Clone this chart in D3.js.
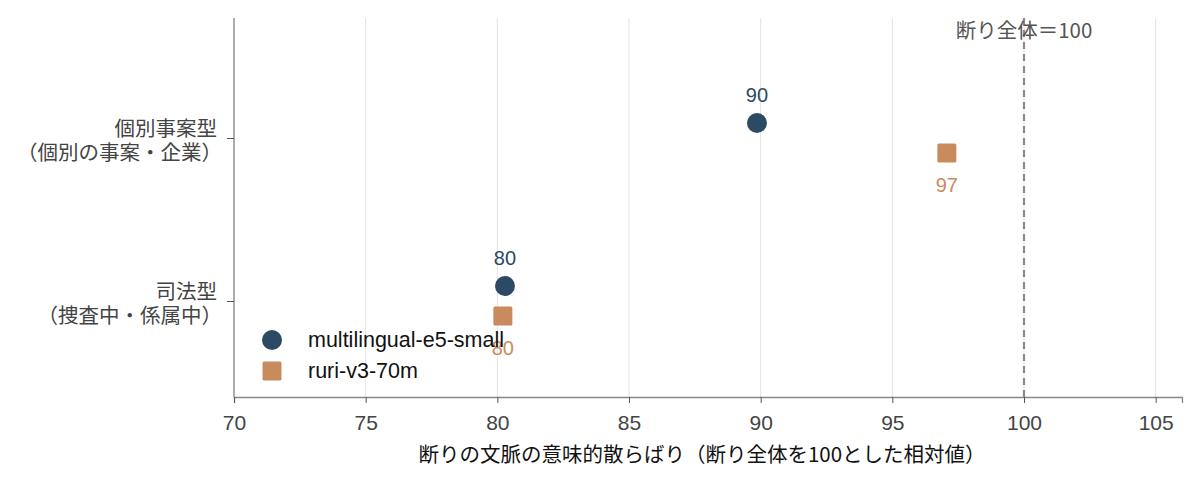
<!DOCTYPE html>
<html><head><meta charset="utf-8">
<script src="https://cdn.jsdelivr.net/npm/d3@7"></script>
<style>
html,body{margin:0;padding:0;background:#fff;}
text{font-family:"Noto Sans CJK JP","Noto Sans",sans-serif;}
</style></head>
<body><svg id="c" width="1200" height="485"></svg>
<script>
const categories = ["個別事案型", "司法型"];
const categorySub = ["（個別の事案・企業）", "（捜査中・係属中）"];
const seriesNames = ["multilingual-e5-small", "ruri-v3-70m"];
const e5Values = [89.86, 80.29];
const ruriValues = [97.07, 80.21];
const e5Labels = ["90", "80"];
const ruriLabels = ["97", "80"];
const xTicks = [70, 75, 80, 85, 90, 95, 100, 105];
const refValue = 100;
const refLabel = "断り全体＝100";
const xTitle = "断りの文脈の意味的散らばり（断り全体を100とした相対値）";

const colors = ["#2c4a63", "#c98b5e"];
const latin = "'Liberation Sans','Noto Sans',sans-serif";
const svg = d3.select("#c");
const L = 234, R = 1182, T = 18, B = 397;
const x = d3.scaleLinear().domain([70, 106]).range([L, R]);
const y = d3.scalePoint().domain(categories).range([138, 301]);

// grid
svg.append("g").selectAll("line").data(xTicks).join("line")
  .attr("x1", d => x(d)).attr("x2", d => x(d)).attr("y1", T).attr("y2", B)
  .attr("stroke", "#e3e3e3").attr("stroke-width", 1);

// x axis
const xa = svg.append("g").attr("transform", `translate(0,${B})`)
  .call(d3.axisBottom(x).tickValues(xTicks).tickSize(6).tickPadding(12));
xa.select(".domain").attr("stroke", "#888").attr("stroke-width", 1.3);
xa.selectAll(".tick line").attr("stroke", "#555");
xa.selectAll(".tick text").attr("fill", "#444").style("font-size", "21px")
  .style("font-family", latin);

// y axis
const ya = svg.append("g").attr("transform", `translate(${L},0)`)
  .call(d3.axisLeft(y).tickSize(7).tickFormat(""));
ya.select(".domain").attr("d", `M0,${T}V${B}`).attr("stroke", "#888").attr("stroke-width", 1.3);
ya.selectAll(".tick line").attr("stroke", "#555");
categories.forEach((c, i) => {
  const t = svg.append("text").attr("text-anchor", "end").attr("fill", "#444")
    .style("font-size", "20.5px");
  t.append("tspan").attr("x", 217).attr("y", y(c) - 2).text(c);
  t.append("tspan").attr("x", 222).attr("y", y(c) + 22).text(categorySub[i]);
});

// reference line
svg.append("line").attr("x1", x(refValue)).attr("x2", x(refValue)).attr("y1", T).attr("y2", B)
  .attr("stroke", "#8a8a8a").attr("stroke-width", 2.2).attr("stroke-dasharray", "7,5");
svg.append("text").attr("x", x(refValue)).attr("y", 38).attr("text-anchor", "middle")
  .attr("fill", "#555").style("font-size", "20.5px").text(refLabel);

// points
const off = 15;
svg.append("g").selectAll("circle").data(categories).join("circle")
  .attr("cx", (d, i) => x(e5Values[i])).attr("cy", d => y(d) - off).attr("r", 10)
  .attr("fill", colors[0]);
svg.append("g").selectAll("rect").data(categories).join("rect")
  .attr("x", (d, i) => x(ruriValues[i]) - 9.5).attr("y", d => y(d) + off - 9.5)
  .attr("width", 19).attr("height", 19).attr("rx", 1.5).attr("fill", colors[1]);
svg.append("g").selectAll("text").data(categories).join("text")
  .attr("x", (d, i) => x(e5Values[i])).attr("y", d => y(d) - off - 21)
  .attr("text-anchor", "middle").attr("fill", colors[0]).style("font-size", "20px")
  .style("font-family", latin)
  .text((d, i) => e5Labels[i]);
svg.append("g").selectAll("text").data(categories).join("text")
  .attr("x", (d, i) => x(ruriValues[i])).attr("y", d => y(d) + off + 39)
  .attr("text-anchor", "middle").attr("fill", colors[1]).style("font-size", "20px")
  .style("font-family", latin)
  .text((d, i) => ruriLabels[i]);

// legend
const lg = svg.append("g");
lg.append("circle").attr("cx", 272).attr("cy", 340).attr("r", 10).attr("fill", colors[0]);
lg.append("rect").attr("x", 262.5).attr("y", 361.5).attr("width", 19).attr("height", 19).attr("rx", 1.5).attr("fill", colors[1]);
seriesNames.forEach((n, i) => {
  lg.append("text").attr("x", 308).attr("y", 347 + i * 31).attr("fill", "#111")
    .style("font-size", "21.5px").style("font-family", latin).text(n);
});

// x title
svg.append("text").attr("x", 702).attr("y", 462).attr("text-anchor", "middle")
  .attr("fill", "#111").style("font-size", "20.5px").text(xTitle);
</script></body></html>
